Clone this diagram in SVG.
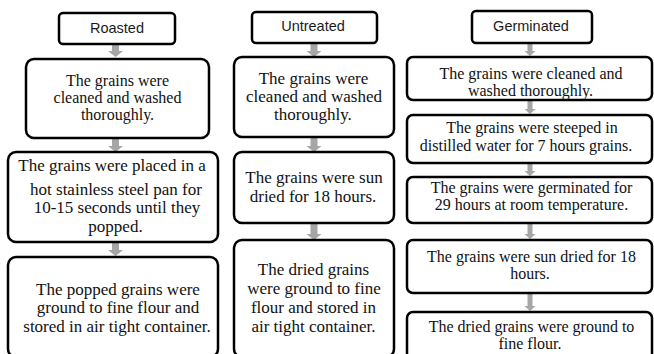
<svg xmlns="http://www.w3.org/2000/svg" width="654" height="354" viewBox="0 0 654 354">
<defs>
<style>
.bg{fill:#ffffff}
.box{fill:#ffffff;stroke:#000000;stroke-width:2.5}
.hd{font-family:"Liberation Sans","Open Sans",Arial,sans-serif;font-size:14.5px;fill:#1a1a1a;text-anchor:middle}
.tx{font-family:"Liberation Serif","Times New Roman","DejaVu Serif",serif;font-size:17px;fill:#111111;text-anchor:middle}
.ts{font-size:16px}
.ar{fill:#a6a6a6}
</style>
</defs>
<rect class="bg" x="0" y="0" width="654" height="354"/>

<g id="connectors">
<path class="ar" d="M112,44 h7 v7 h4 l-7.5,6 l-7.5,-6 h4 z"/>
<path class="ar" d="M112,138 h7 v8 h4 l-7.5,6 l-7.5,-6 h4 z"/>
<path class="ar" d="M112,242 h7 v8 h4 l-7.5,6 l-7.5,-6 h4 z"/>
<path class="ar" d="M310.5,43 h7 v8 h4 l-7.5,6 l-7.5,-6 h4 z"/>
<path class="ar" d="M310.5,137 h7 v9 h4 l-7.5,6 l-7.5,-6 h4 z"/>
<path class="ar" d="M310.5,223 h7 v11 h4 l-7.5,6 l-7.5,-6 h4 z"/>
<path class="ar" d="M527.5,43 h5 v8 h3 l-5.5,5 l-5.5,-5 h3 z"/>
<path class="ar" d="M527.5,100 h5 v9 h3 l-5.5,5 l-5.5,-5 h3 z"/>
<path class="ar" d="M527.5,163 h5 v8 h3 l-5.5,5 l-5.5,-5 h3 z"/>
<path class="ar" d="M527.5,223 h5 v11 h3 l-5.5,5 l-5.5,-5 h3 z"/>
<path class="ar" d="M527.5,293 h5 v13 h3 l-5.5,5 l-5.5,-5 h3 z"/>
</g>

<g id="roasted-header">
<rect class="box" x="59" y="13" width="116" height="31" rx="4"/>
<text class="hd" x="117" y="33">Roasted</text>
</g>
<g id="roasted-1">
<rect class="box" x="26" y="59" width="183" height="79" rx="8"/>
<text class="tx ts" x="117.5" y="86">The grains were</text>
<text class="tx ts" x="117.5" y="103">cleaned and washed</text>
<text class="tx ts" x="117.5" y="120">thoroughly.</text>
</g>
<g id="roasted-2">
<rect class="box" x="8" y="152" width="210" height="90" rx="8"/>
<text class="tx" x="112" y="171">The grains were placed in a</text>
<text class="tx" x="116" y="195">hot stainless steel pan for</text>
<text class="tx" x="117" y="213">10-15 seconds until they</text>
<text class="tx" x="115.5" y="232">popped.</text>
</g>
<g id="roasted-3">
<rect class="box" x="8" y="257" width="210" height="100" rx="8"/>
<text class="tx" x="118" y="295">The popped grains were</text>
<text class="tx" x="118" y="313">ground to fine flour and</text>
<text class="tx" x="117" y="332">stored in air tight container.</text>
</g>

<g id="untreated-header">
<rect class="box" x="252" y="12" width="125" height="31" rx="4"/>
<text class="hd" x="313" y="31">Untreated</text>
</g>
<g id="untreated-1">
<rect class="box" x="234" y="57" width="160" height="80" rx="8"/>
<text class="tx" x="313.5" y="84">The grains were</text>
<text class="tx" x="314" y="102">cleaned and washed</text>
<text class="tx" x="313" y="120">thoroughly.</text>
</g>
<g id="untreated-2">
<rect class="box" x="234" y="152" width="160" height="71" rx="8"/>
<text class="tx" x="314" y="183">The grains were sun</text>
<text class="tx" x="313" y="202">dried for 18 hours.</text>
</g>
<g id="untreated-3">
<rect class="box" x="234" y="240" width="160" height="117" rx="8"/>
<text class="tx" x="313.5" y="275">The dried grains</text>
<text class="tx" x="314" y="294">were ground to fine</text>
<text class="tx" x="313.5" y="313">flour and stored in</text>
<text class="tx" x="313.5" y="332">air tight container.</text>
</g>

<g id="germinated-header">
<rect class="box" x="472" y="11" width="120" height="32" rx="4"/>
<text class="hd" x="531" y="31">Germinated</text>
</g>
<g id="germinated-1">
<rect class="box" x="407" y="57" width="245" height="43" rx="6"/>
<text class="tx ts" x="531" y="79">The grains were cleaned and</text>
<text class="tx ts" x="530.5" y="96">washed thoroughly.</text>
</g>
<g id="germinated-2">
<rect class="box" x="407" y="115" width="245" height="48" rx="6"/>
<text class="tx ts" x="532" y="133">The grains were steeped in</text>
<text class="tx ts" x="526" y="151">distilled water for 7 hours grains.</text>
</g>
<g id="germinated-3">
<rect class="box" x="407" y="177" width="245" height="46" rx="6"/>
<text class="tx ts" x="531.5" y="193">The grains were germinated for</text>
<text class="tx ts" x="531.5" y="210">29 hours at room temperature.</text>
</g>
<g id="germinated-4">
<rect class="box" x="407" y="240" width="245" height="53" rx="6"/>
<text class="tx ts" x="531.5" y="262">The grains were sun dried for 18</text>
<text class="tx ts" x="530" y="279">hours.</text>
</g>
<g id="germinated-5">
<rect class="box" x="407" y="312" width="245" height="48" rx="6"/>
<text class="tx ts" x="531.5" y="332">The dried grains were ground to</text>
<text class="tx ts" x="530" y="349">fine flour.</text>
</g>
</svg>
